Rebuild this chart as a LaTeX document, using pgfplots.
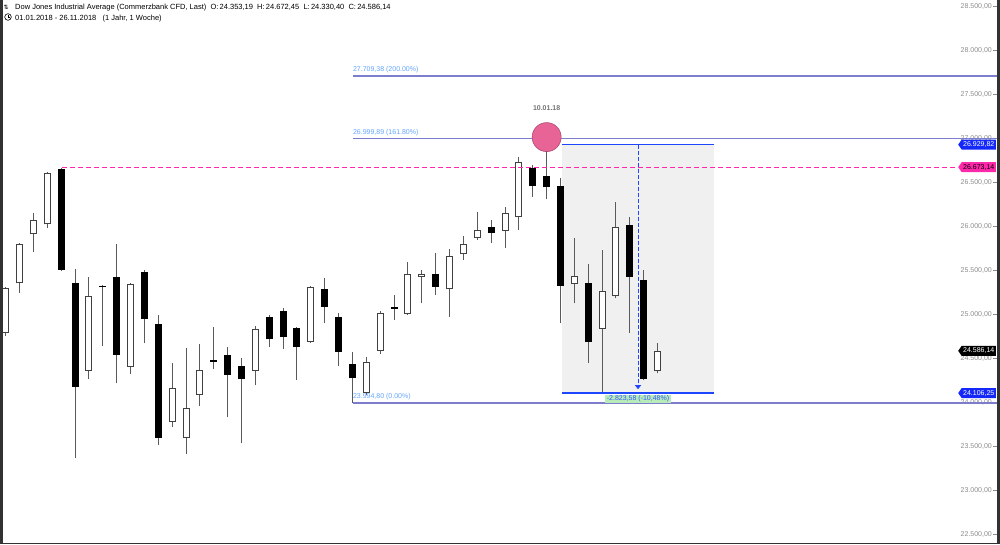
\documentclass[border=0pt]{standalone}
\usepackage{fontspec}
\setmainfont{Liberation Sans}
\newfontfamily\dejavu{DejaVu Sans}
\usepackage{pgfplots}
\usepackage{pgfplotstable}
\pgfplotsset{compat=1.18}
\usetikzlibrary{shapes.symbols, arrows.meta}

\definecolor{fibline}{RGB}{125,125,205}
\definecolor{fibtext}{RGB}{100,165,255}
\definecolor{boxblue}{RGB}{30,70,255}
\definecolor{tagblue}{RGB}{20,40,250}
\definecolor{levelpink}{RGB}{255,40,170}
\definecolor{dotpink}{RGB}{232,100,150}
\definecolor{shade}{RGB}{240,240,240}
\definecolor{ticktext}{RGB}{140,140,140}
\definecolor{wick}{RGB}{90,90,90}
\definecolor{framegray}{RGB}{50,50,50}
\definecolor{gainbg}{RGB}{185,235,185}
\definecolor{gaintext}{RGB}{50,90,255}

% weekly OHLC, Dow Jones CFD 2018 (week index from 01.01.2018)
\pgfplotstableread{
i  O         H         L         C
0  24792     25315     24755     25296
1  25353     25815     25247     25800
2  25910     26149     25713     26073
3  26024     26616     25978     26611
4  26649     26660     25490     25505
5  25361     25516     23364     24179
6  24361     25429     24262     25213
7  25327     25338     24641     25310
8  25429     25800     24217     24539
9  24406     25360     24323     25346
10 25486     25505     24671     24948
11 24891     24993     23516     23592
12 23781     24444     23717     24160
13 23599     24615     23410     23933
14 24084     24660     23959     24368
15 24482     24861     24376     24455
16 24539     24634     23831     24312
17 24414     24501     23535     24262
18 24361     24872     24198     24834
19 24967     24993     24634     24717
20 25039     25069     24607     24747
21 24842     24855     24255     24634
22 24690     25327     24680     25315
23 25285     25410     24898     25088
24 24967     25012     24414     24577
25 24433     24569     23990     24274
26 24111     24520     24084     24463
27 24588     25043     24550     25020
28 25080     25221     24937     25062
29 25001     25599     24990     25455
30 25421     25505     25126     25459
31 25459     25694     25221     25315
32 25285     25740     24975     25664
33 25683     25891     25619     25797
34 25865     26168     25850     25960
35 25997     26073     25815     25929
36 25948     26225     25751     26149
37 26103     26785     25959     26728
38 26668     26698     26338     26459
39 26573     26951     26308     26444
40 26459     26546     24898     25327
41 25342     25865     25126     25440
42 25361     25573     24452     24690
43 24834     25732     24122     25266
44 25209     26281     25183     25989
45 26016     26111     24792     25429
46 25391     25505     24250     24266
47 24353.19  24672.45  24330.40  24586.14
}\weekly

% a candle part is an error bar without a marker or connecting line
\pgfplotsset{
  candle/.style={draw=none, mark=none,
    error bars/y dir=plus, error bars/y explicit, error bars/error mark=none,
    error bars/error bar style={solid, #1}},
}
\tikzset{
  pricetag/.style={signal, signal to=west, signal pointer angle=110,
    inner xsep=1.5pt, inner ysep=1pt, minimum height=10pt, anchor=east,
    font=\fontsize{7}{8}\selectfont},
}

\begin{document}
\begin{tikzpicture}
\useasboundingbox (0,0) rectangle (1000pt,544pt);
\begin{axis}[
  at={(0,0)}, anchor=south west,
  scale only axis, width=997pt, height=544pt,
  xmin=-0.41, xmax=71.47,
  ymin=22391.2, ymax=28573.0,
  axis line style={draw=none},
  xtick=\empty,
  ytick={22500,23000,...,28500},
  scaled y ticks=false,
  ytick pos=right, tick align=inside,
  major tick length=4pt,
  tick style={ticktext, line width=0.6pt},
  yticklabel style={anchor=east, xshift=-5pt, inner sep=0pt,
    font=\fontsize{7}{8}\selectfont, text=ticktext,
    /pgf/number format/fixed, /pgf/number format/fixed zerofill,
    /pgf/number format/precision=2, /pgf/number format/use comma,
    /pgf/number format/1000 sep={.}, /pgf/number format/assume math mode=true},
  clip=true,
]
% measured range box
\addplot[draw=none, fill=shade] coordinates
  {(40.1,24106.25) (51.07,24106.25) (51.07,26929.82) (40.1,26929.82)} -- cycle;

% highlight of the swing high
\addplot[only marks, mark=*, mark size=14.5pt,
  mark options={fill=dotpink, draw=dotpink!75!black, line width=0.6pt}]
  coordinates {(39,27015)};

% Fibonacci levels
\addplot[fibline, line width=1.5pt] coordinates {(25.03,27709.38) (71.5,27709.38)};
\addplot[fibline, line width=1.5pt] coordinates {(25.03,26999.89) (71.5,26999.89)};
\addplot[fibline, line width=1.5pt] coordinates {(25.03,23994.80) (71.5,23994.80)};

% wicks
\addplot[candle={draw=wick, line width=1pt}]
  table[x=i, y=L, y error plus expr=\thisrow{H}-\thisrow{L}] {\weekly};
% falling weeks
\addplot[candle={draw=black, line width=7pt},
  restrict expr to domain={\thisrow{C}-\thisrow{O}}{-100000:-0.001}]
  table[x=i, y=C, y error plus expr=\thisrow{O}-\thisrow{C}] {\weekly};
% rising weeks: outline, then white body
\addplot[candle={draw=black!75, line width=7pt},
  restrict expr to domain={\thisrow{C}-\thisrow{O}}{0:100000}]
  table[x=i, y=O, y error plus expr=\thisrow{C}-\thisrow{O}] {\weekly};
\addplot[candle={draw=white, line width=5pt},
  restrict expr to domain={\thisrow{C}-\thisrow{O}}{0:100000}]
  table[x=i, y expr=\thisrow{O}+11.4, y error plus expr={max(\thisrow{C}-\thisrow{O}-22.8,0)}] {\weekly};

% January high as dashed reference line
\addplot[draw=levelpink, color=levelpink, line width=1.2pt, dash pattern=on 5pt off 3pt]
  coordinates {(4.06,26673.14) (68.6,26673.14)};

% range box edges and measured drop
\addplot[boxblue, line width=1.5pt] coordinates {(40.1,26929.82) (51.07,26929.82)};
\addplot[boxblue, line width=1.5pt] coordinates {(40.1,24106.25) (51.07,24106.25)};
\addplot[boxblue, line width=1pt, dash pattern=on 4pt off 2pt,
  -{Triangle[width=6pt,length=4pt]}]
  coordinates {(45.59,26929.82) (45.59,24150)};

\node[fill=gainbg, text=gaintext, inner xsep=1.5pt, inner ysep=0.8pt, anchor=north,
  font=\fontsize{7}{8}\selectfont] at (axis cs:45.59,24090) {-2.823,58 (-10,48\%)};

\node[anchor=south west, inner sep=0pt, text=fibtext, font=\fontsize{7}{8}\selectfont]
  at (axis cs:25.03,27740) {27.709,38 (200.00\%)};
\node[anchor=south west, inner sep=0pt, text=fibtext, font=\fontsize{7}{8}\selectfont]
  at (axis cs:25.03,27030) {26.999,89 (161.80\%)};
\node[anchor=south west, inner sep=0pt, text=fibtext, font=\fontsize{7}{8}\selectfont]
  at (axis cs:25.03,24025) {23.994,80 (0.00\%)};

\node[text=black!55, font=\bfseries\fontsize{7}{8}\selectfont] at (axis cs:39,27345) {10.01.18};

\coordinate (tagA) at (axis cs:71.4,26929.82);
\coordinate (tagB) at (axis cs:71.4,26673.14);
\coordinate (tagC) at (axis cs:71.4,24586.14);
\coordinate (tagD) at (axis cs:71.4,24106.25);
\end{axis}

% last-value tags on the price scale
\node[pricetag, fill=tagblue, text=white] at (tagA) {26.929,82};
\node[pricetag, fill=levelpink, text=black] at (tagB) {26.673,14};
\node[pricetag, fill=black, text=white] at (tagC) {24.586,14};
\node[pricetag, fill=tagblue, text=white] at (tagD) {24.106,25};

% header
\node[anchor=base west, inner sep=0pt, font=\dejavu\fontsize{6}{7}\selectfont] at (3.5pt,534pt) {⇅};
\node[anchor=base west, inner sep=0pt, font=\fontsize{7.5}{9}\selectfont] at (15pt,534pt)
  {Dow Jones Industrial Average (Commerzbank CFD, Last)\ \ O:\,24.353,19\ \ H:\,24.672,45\ \ L:\,24.330,40\ \ C:\,24.586,14};
\draw[line width=0.6pt] (8pt,527pt) circle (3.3pt);
\draw[line width=0.5pt] (8pt,529pt) -- (8pt,527pt) -- (9.6pt,527pt);
\node[anchor=base west, inner sep=0pt, font=\fontsize{7.5}{9}\selectfont] at (15pt,523.5pt)
  {01.01.2018 - 26.11.2018\ \ \ (1 Jahr, 1 Woche)};

% window frame
\fill[framegray] (0,0) rectangle (2.5pt,544pt);
\fill[framegray] (997pt,0) rectangle (1000pt,544pt);
\fill[framegray] (0,0) rectangle (1000pt,1.5pt);
\end{tikzpicture}
\end{document}
